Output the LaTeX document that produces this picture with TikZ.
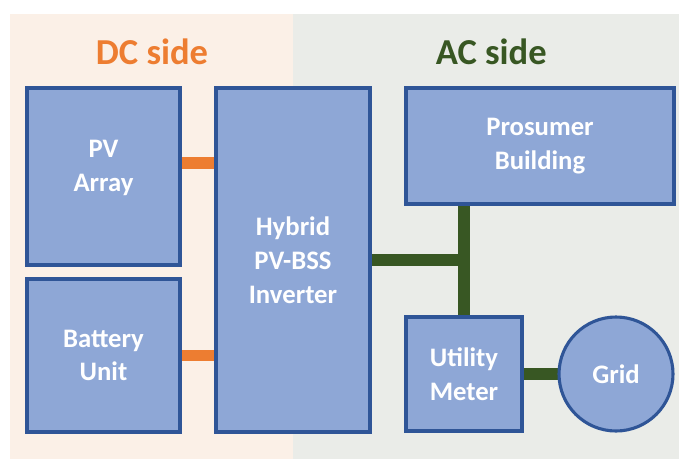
\documentclass[tikz,border=0pt]{standalone}
\usepackage{fontspec}
\setmainfont{Carlito}
\usepackage{xcolor}
\usepackage{tikz}
\usetikzlibrary{positioning,backgrounds}
\definecolor{boxblue}{RGB}{142,167,214}
\definecolor{edgeblue}{RGB}{47,85,151}
\definecolor{dcorange}{RGB}{237,125,49}
\definecolor{acgreen}{RGB}{56,87,35}
\definecolor{dcpaper}{RGB}{251,240,231}
\definecolor{acpaper}{RGB}{234,236,232}

\begin{document}
\begin{tikzpicture}[
  every node/.style={font=\bfseries\fontsize{19}{24}\selectfont},
  unit/.style={draw=edgeblue, line width=2.2pt, fill=boxblue, text=white, align=center, outer sep=0pt, inner sep=0pt},
  side/.style={font=\bfseries\fontsize{26}{30}\selectfont},
  dcbus/.style={draw=dcorange, line width=8.5pt},
  acbus/.style={draw=acgreen, line width=8.5pt}
]
\useasboundingbox (0,0) rectangle (16.975,-11.475);
\node[unit, anchor=north west, minimum width=3.825cm, minimum height=4.425cm, text depth=0.55cm] (pv) at (0.675,-2.2) {PV\\Array};
\node[unit, below=0.35cm of pv, minimum width=3.825cm, minimum height=3.825cm] (bat) {Battery\\Unit};
\node[unit, anchor=north west, minimum width=3.85cm, minimum height=8.6cm] (inv) at ([xshift=0.9cm]pv.north east) {Hybrid\\PV-BSS\\Inverter};
\node[unit, anchor=north west, minimum width=6.7cm, minimum height=2.9cm] (pros) at ([xshift=0.9cm]inv.north east) {Prosumer\\Building};
\node[unit, anchor=north west, minimum width=2.9cm, minimum height=2.85cm] (meter) at ([yshift=-2.825cm]pros.south west) {Utility\\Meter};
\node[unit, circle, right=0.925cm of meter, minimum size=2.85cm] (grid) {Grid};

\node[side, text=dcorange] (dctitle) at (3.8,-1.3) {DC side};
\node[side, text=acgreen] (actitle) at (12.28,-1.3) {AC side};

\begin{scope}[on background layer]
  % the two sides
  \fill[dcpaper] (0.25,-0.35) rectangle (7.325,-11.475);
  \fill[acpaper] (7.325,-0.35) rectangle (16.975,-11.475);
  % DC links
  \coordinate (pvtap) at ([yshift=0.34cm]pv.east);
  \draw[dcbus] (pvtap) -- (pvtap -| inv.west);
  \draw[dcbus] (bat.east) -- (bat.east -| inv.west);
  % AC links
  \draw[acbus] (meter.north |- pros.south) -- (meter.north);
  \draw[acbus] (inv.east) -- (inv.east -| meter.north);
  \draw[acbus] (meter.east) -- (grid.west);
\end{scope}
\end{tikzpicture}
\end{document}
